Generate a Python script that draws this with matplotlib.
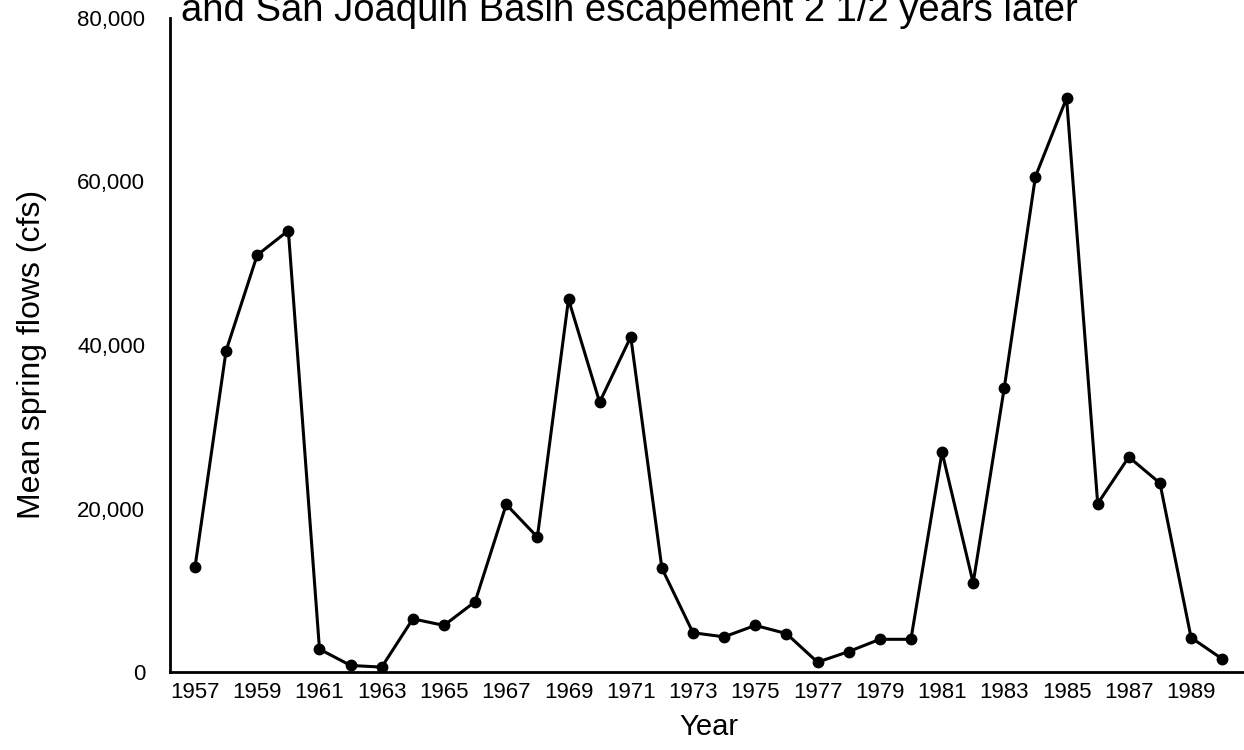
import matplotlib
matplotlib.use("Agg")
import matplotlib.pyplot as plt
import numpy as np

# mean spring flows (cfs)
years = np.arange(1957, 1991)
flows = [12800, 39300, 51000, 54000, 2800, 800, 600, 6500, 5700, 8600,
         20500, 16500, 45600, 33000, 41000, 12700, 4800, 4300, 5700, 4700,
         1200, 2500, 4000, 4000, 26900, 10900, 34800, 60600, 70200, 20600,
         26300, 23100, 4200, 1600]
xtick_years = np.arange(1957, 1990, 2)
ytick_vals = [0, 20000, 40000, 60000, 80000]
ytick_labels = ["0", "20,000", "40,000", "60,000", "80,000"]

plt.rcParams['font.family'] = ['Liberation Sans', 'DejaVu Sans']

fig = plt.figure(figsize=(12.44, 7.5), dpi=100)
ax = fig.add_axes([0.1367, 0.104, 0.8633, 0.872])

ax.plot(years, flows, color="black", lw=2.2, marker="o", markersize=7.5)

ax.set_xlim(1956.2, 1990.7)
ax.set_ylim(0, 80000)
ax.set_xticks(xtick_years)
ax.set_xticklabels([str(y) for y in xtick_years], fontsize=16)
ax.set_yticks(ytick_vals)
ax.set_yticklabels(ytick_labels, fontsize=16)
ax.tick_params(axis="x", length=0, pad=7)
ax.tick_params(axis="y", length=0, pad=18)

for s in ["top", "right"]:
    ax.spines[s].set_visible(False)
for s in ["left", "bottom"]:
    ax.spines[s].set_linewidth(2)

fig.text(0.570, 0.031, "Year", ha="center", va="center", fontsize=21)
fig.text(0.026, 0.527, "Mean spring flows (cfs)", rotation=90,
         ha="center", va="center", fontsize=23)

# title line is cut off at the top of the page
fig.text(0.506, 0.972, "and San Joaquin Basin escapement 2 1/2 years later",
         ha="center", va="baseline", fontsize=27.5)

fig.savefig("out.png", dpi=100)
